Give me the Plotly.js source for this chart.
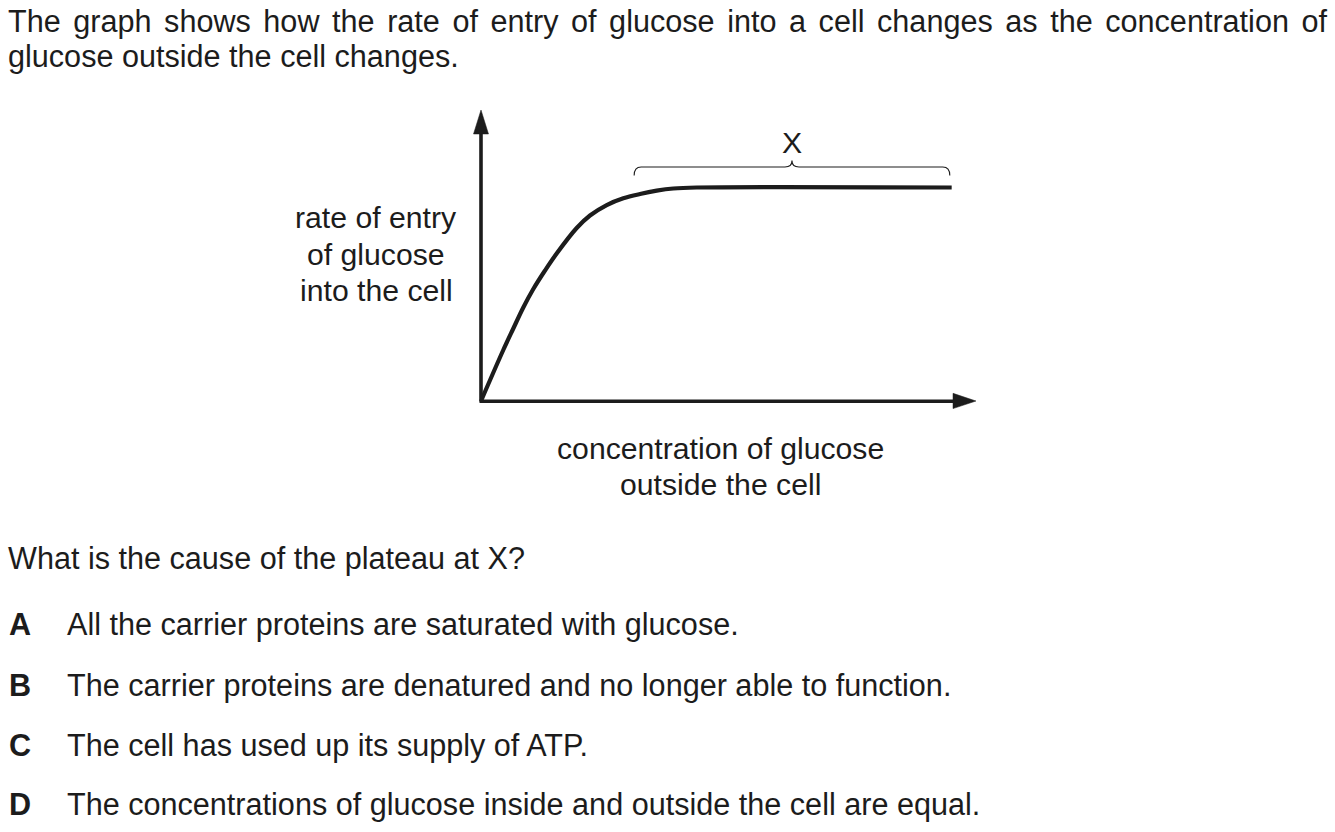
<!DOCTYPE html>
<html>
<head>
<meta charset="utf-8">
<script src="https://cdn.plot.ly/plotly-3.0.1.min.js"></script>
<style>
html,body{margin:0;padding:0;background:#fff;}
#chart{width:1335px;height:832px;}
</style>
</head>
<body>
<div id="chart"></div>
<script>
// ---- data (arbitrary units) ----
const concentration = [0, 4.51, 6.54, 8.56, 10.59, 12.96, 15.32, 19.37, 22.06, 25.45, 28.81, 32.19, 35.57, 38.93, 43.66, 95.28];
const rateOfEntry   = [0, 17.53, 24.91, 32.13, 38.49, 44.85, 50.69, 59.45, 63.75, 67.35, 69.66, 71.13, 72.27, 73.02, 73.37, 73.37];
const plateauLabel = "X";
const plateauStart = 31.0;   // concentration where the brace begins
const plateauEnd   = 94.9;   // concentration where the brace ends
const yLabelLines = ["rate of entry", "of glucose", "into the cell"];
const xLabelLines = ["concentration of glucose", "outside the cell"];
const introLines = [
  "The graph shows how the rate of entry of glucose into a cell changes as the concentration of",
  "glucose outside the cell changes."
];
const question = "What is the cause of the plateau at X?";
const optionLetters = ["A", "B", "C", "D"];
const optionTexts = [
  "All the carrier proteins are saturated with glucose.",
  "The carrier proteins are denatured and no longer able to function.",
  "The cell has used up its supply of ATP.",
  "The concentrations of glucose inside and outside the cell are equal."
];

// ---- layout geometry ----
const W = 1335, H = 832;
const L = 481, R = 975, T = 110, B = 401;       // plot area in pixels
const PW = R - L, PH = B - T;
const px = x => (x - L) / PW;                   // pixel -> paper
const py = y => (B - y) / PH;
const P = (x, y) => px(x).toFixed(5) + "," + py(y).toFixed(5);

const ink = "#1c1c1c";
const FONT = "Arial, 'Liberation Sans', Helvetica, sans-serif";
const FS = 30.6;      // body text
const FS_LBL = 30.2;  // graph labels

const data = [{
  x: concentration,
  y: rateOfEntry,
  type: "scatter",
  mode: "lines",
  line: {color: ink, width: 4.2, shape: "spline", smoothing: 1},
  hoverinfo: "skip"
}];

const shapes = [];
// y axis line + arrow head
shapes.push({type: "line", xref: "paper", yref: "paper", x0: px(481), y0: py(401.5), x1: px(481), y1: py(128),
  line: {color: ink, width: 3.6}});
shapes.push({type: "path", xref: "paper", yref: "paper",
  path: "M" + P(481, 110) + " L" + P(488.5, 134) + " L" + P(473.5, 134) + " Z",
  fillcolor: ink, line: {color: ink, width: 0.5}});
// x axis line + arrow head
shapes.push({type: "line", xref: "paper", yref: "paper", x0: px(479.5), y0: py(401.2), x1: px(956), y1: py(401.2),
  line: {color: ink, width: 3.6}});
shapes.push({type: "path", xref: "paper", yref: "paper",
  path: "M" + P(976, 401) + " L" + P(953, 393.3) + " L" + P(953, 408.6) + " Z",
  fillcolor: ink, line: {color: ink, width: 0.5}});

// brace above plateau
const xpx = c => L + c / 100 * PW;
const bx0 = xpx(plateauStart), bx1 = xpx(plateauEnd), bm = (bx0 + bx1) / 2;
const by = 167, byEnd = 175.5, byTip = 160.5, r = 7;
const bracePath =
  "M" + P(bx0, byEnd) +
  " Q" + P(bx0, by) + " " + P(bx0 + r, by) +
  " L" + P(bm - r, by) +
  " Q" + P(bm, by) + " " + P(bm, byTip) +
  " Q" + P(bm, by) + " " + P(bm + r, by) +
  " L" + P(bx1 - r, by) +
  " Q" + P(bx1, by) + " " + P(bx1, byEnd);
shapes.push({type: "path", xref: "paper", yref: "paper", path: bracePath,
  line: {color: ink, width: 1.1}});

const annotations = [];
function txt(text, x, y, opts, size) {
  annotations.push(Object.assign({
    text: text, xref: "paper", yref: "paper", x: px(x), y: py(y),
    xanchor: "left", yanchor: "middle", showarrow: false,
    font: {family: FONT, size: size || FS, color: ink}, align: "left"
  }, opts || {}));
}
// intro text
txt(introLines[0], 6, 21);
txt(introLines[1], 6, 57);
// y label
const yLabelY = [217, 254, 290];
yLabelLines.forEach((s, i) => txt(s, 376, yLabelY[i], {xanchor: "center", align: "center"}, FS_LBL));
// x label
const xLabelY = [448, 485];
xLabelLines.forEach((s, i) => txt(s, 720, xLabelY[i], {xanchor: "center", align: "center"}, FS_LBL));
// X label
txt(plateauLabel, bm, 142, {xanchor: "center"}, FS_LBL);
// question
txt(question, 6, 558);
const optY = [624, 685, 745, 804];
optionLetters.forEach((s, i) => {
  txt("<b>" + s + "</b>", 7, optY[i]);
  txt(optionTexts[i], 65, optY[i]);
});

const layout = {
  width: W, height: H,
  margin: {l: L, r: W - R, t: T, b: H - B, pad: 0},
  paper_bgcolor: "#ffffff", plot_bgcolor: "rgba(0,0,0,0)",
  showlegend: false,
  xaxis: {range: [0, 100], visible: false, fixedrange: true},
  yaxis: {range: [0, 100], visible: false, fixedrange: true},
  shapes: shapes,
  annotations: annotations
};

Plotly.newPlot("chart", data, layout, {staticPlot: true, displayModeBar: false}).then(gd => {
  // justify the first line of intro text across the page width (8px .. 1327px)
  const nodes = gd.querySelectorAll(".annotation-text");
  nodes.forEach(n => {
    if (n.textContent === introLines[0]) {
      const len = n.getComputedTextLength();
      const spaces = introLines[0].split(" ").length - 1;
      const target = 1319;
      const ws = (target - len) / spaces;
      if (ws > 0) n.style.wordSpacing = ws + "px";
    }
  });
});
</script>
</body>
</html>
